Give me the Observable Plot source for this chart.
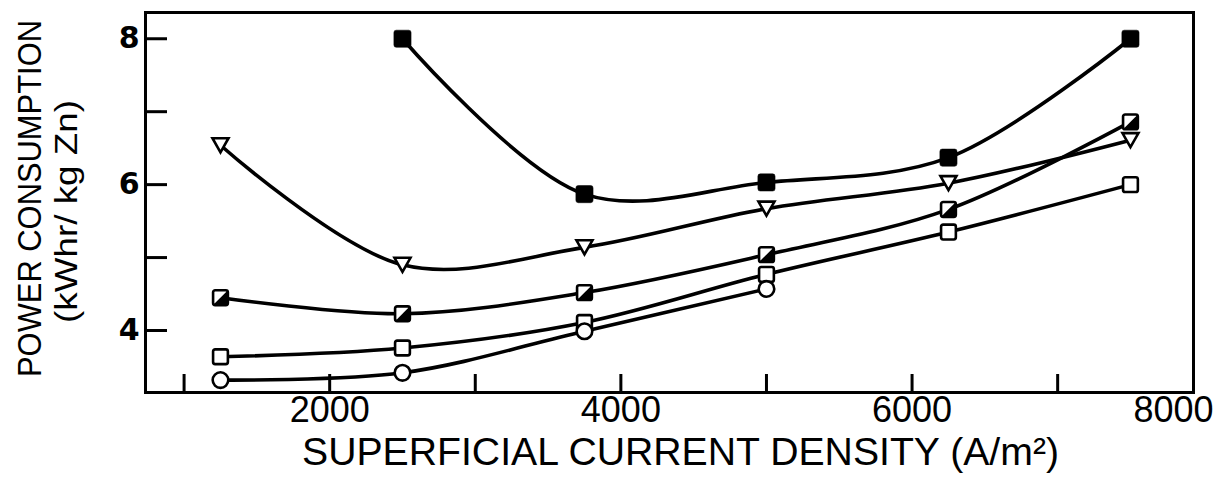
<!DOCTYPE html>
<html>
<head>
<meta charset="utf-8">
<script src="https://cdn.jsdelivr.net/npm/d3@7"></script>
<script src="https://cdn.jsdelivr.net/npm/@observablehq/plot@0.6"></script>
<style>
  html, body { margin: 0; padding: 0; background: #fff; }
</style>
</head>
<body>
<div id="chart"></div>
<script>
// Superficial current density of each run (A/m²)
const density = [1250, 2500, 3750, 5000, 6250, 7500];

// Power consumption (kWhr / kg Zn) for each series; null = no run
const filledSquare = [null, 8.0, 5.87, 6.03, 6.37, 8.0];
const openTriangle = [6.54, 4.90, 5.14, 5.67, 6.02, 6.61];
const halfSquare   = [4.45, 4.23, 4.52, 5.04, 5.66, 6.86];
const openSquare   = [3.64, 3.76, 4.11, 4.77, 5.35, 6.00];
const openCircle   = [3.32, 3.42, 3.99, 4.57, null, null];

// Axis ticks and labels
const xTicks = [1000, 2000, 3000, 4000, 5000, 6000, 7000];
const xLabels = [2000, 4000, 6000, 8000];
const yTicks = [4, 5, 6, 7, 8];
const yLabels = [4, 6, 8];

const xTitle = "SUPERFICIAL CURRENT DENSITY (A/m\u00B2)";
const yTitle1 = "POWER CONSUMPTION";
const yTitle2 = "(kWhr/ kg Zn)";

// layout
const W = 1217, H = 483;
const M = {top: 12, right: 24, bottom: 91, left: 145};
const frameW = W - M.left - M.right;
const frameH = H - M.top - M.bottom;
const ink = "#000";

function rows(values) {
  return density.map((x, i) => ({x, y: values[i]})).filter(d => d.y != null);
}
const sFilled = rows(filledSquare);
const sTri = rows(openTriangle);
const sHalf = rows(halfSquare);
const sSquare = rows(openSquare);
const sCircle = rows(openCircle);

// custom marker shapes; r is half the marker size
const radius = size => Math.sqrt(size / Math.PI);
const roundSquare = {
  draw(ctx, size) {
    const r = radius(size), c = r * 0.28;
    ctx.moveTo(-r + c, -r);
    ctx.lineTo(r - c, -r);
    ctx.arcTo(r, -r, r, -r + c, c);
    ctx.lineTo(r, r - c);
    ctx.arcTo(r, r, r - c, r, c);
    ctx.lineTo(-r + c, r);
    ctx.arcTo(-r, r, -r, r - c, c);
    ctx.lineTo(-r, -r + c);
    ctx.arcTo(-r, -r, -r + c, -r, c);
    ctx.closePath();
  }
};
const lowerRightHalf = {
  draw(ctx, size) {
    const r = radius(size);
    ctx.moveTo(r, -r);
    ctx.lineTo(r, r);
    ctx.lineTo(-r, r);
    ctx.closePath();
  }
};
const triangleDown = {
  draw(ctx, size) {
    const r = radius(size), h = r * 0.88;
    ctx.moveTo(-r, -h);
    ctx.lineTo(r, -h);
    ctx.lineTo(0, h);
    ctx.closePath();
  }
};

const lineOpts = {x: "x", y: "y", stroke: ink, strokeWidth: 3.6, curve: "catmull-rom"};
const openOpts = {x: "x", y: "y", fill: "#fff", stroke: ink, strokeWidth: 2.6};

const plot = Plot.plot({
  width: W,
  height: H,
  marginTop: M.top,
  marginRight: M.right,
  marginBottom: M.bottom,
  marginLeft: M.left,
  style: {background: "#fff", overflow: "visible"},
  x: {domain: [735, 7933], axis: null},
  y: {domain: [3.15, 8.36], axis: null},
  marks: [
    // inward ticks
    Plot.tickX(xTicks, {x: d => d, insetTop: frameH - 18, stroke: ink, strokeWidth: 3}),
    Plot.tickY(yTicks, {y: d => d, insetRight: frameW - 22, stroke: ink, strokeWidth: 3}),
    Plot.frame({stroke: ink, strokeWidth: 3}),

    // curves
    Plot.line(sFilled, lineOpts),
    Plot.line(sTri, lineOpts),
    Plot.line(sHalf, lineOpts),
    Plot.line(sSquare, lineOpts),
    Plot.line(sCircle, lineOpts),

    // markers
    Plot.dot(sFilled, {x: "x", y: "y", symbol: roundSquare, r: 8.6, fill: ink, stroke: ink, strokeWidth: 0.5}),
    Plot.dot(sTri, {...openOpts, symbol: triangleDown, r: 8}),
    Plot.dot(sHalf, {...openOpts, symbol: roundSquare, r: 7.4}),
    Plot.dot(sHalf, {x: "x", y: "y", symbol: lowerRightHalf, r: 7.4, fill: ink}),
    Plot.dot(sSquare, {...openOpts, symbol: roundSquare, r: 7.4}),
    Plot.dot(sCircle, {...openOpts, symbol: "circle", r: 7.8}),

    // tick labels
    Plot.text(yLabels, {y: d => d, text: d => String(d), frameAnchor: "left", textAnchor: "end", dx: -6,
      fontFamily: "DejaVu Sans", fontWeight: "bold", fontSize: 30, fill: ink}),
    Plot.text(xLabels.slice(0, -1), {x: d => d, text: d => String(d), frameAnchor: "bottom", dy: 29,
      fontFamily: "Liberation Sans", fontSize: 36, fill: ink}),
    Plot.text(xLabels.slice(-1), {text: d => String(d), frameAnchor: "bottom-right", textAnchor: "end", dx: 20, dy: 29,
      fontFamily: "Liberation Sans", fontSize: 36, fill: ink}),

    // axis titles
    Plot.text([xTitle], {text: d => d, frameAnchor: "bottom", dx: 11, dy: 72,
      fontFamily: "Liberation Sans", fontSize: 38, fill: ink}),
    Plot.text([yTitle1], {text: d => d, frameAnchor: "left", textAnchor: "middle", rotate: -90, dx: -115, dy: -4,
      fontFamily: "Liberation Sans", fontSize: 34, fill: ink}),
    Plot.text([yTitle2], {text: d => d, frameAnchor: "left", textAnchor: "middle", rotate: -90, dx: -79, dy: 9,
      fontFamily: "Liberation Sans", fontSize: 32, fill: ink})
  ]
});

// fit the hand-lettered titles to their drawn lengths
const fit = {[xTitle]: 757, [yTitle1]: 357, [yTitle2]: 223};
d3.select(plot).selectAll("text").each(function () {
  const len = fit[this.textContent];
  if (len) {
    this.setAttribute("textLength", len);
    this.setAttribute("lengthAdjust", "spacingAndGlyphs");
  }
});

document.getElementById("chart").appendChild(plot);
</script>
</body>
</html>
